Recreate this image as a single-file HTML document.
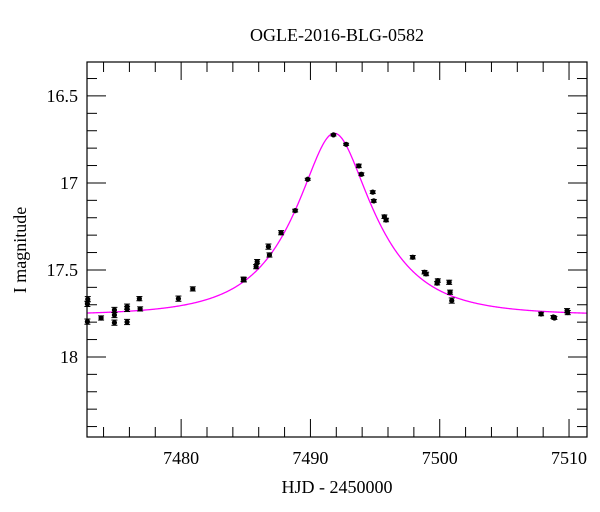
<!DOCTYPE html>
<html><head><meta charset="utf-8">
<style>
html,body{margin:0;padding:0;background:#fff;}
svg{display:block;font-family:"Liberation Serif",serif;}
</style></head>
<body>
<svg id="chart" width="600" height="512" viewBox="0 0 600 512" xmlns="http://www.w3.org/2000/svg">
<text x="337" y="41" font-size="18" text-anchor="middle">OGLE-2016-BLG-0582</text>
<text x="337" y="493" font-size="18" text-anchor="middle">HJD - 2450000</text>
<text x="26" y="250" font-size="18" text-anchor="middle" transform="rotate(-90 26 250)">I magnitude</text>
<g id="ticks"></g>
<g id="curve"></g>
<g id="points"></g>
<rect x="87" y="62" width="500" height="375" fill="none" stroke="#000" stroke-width="1.2"/>
</svg>
<script>
const hjd = [7472.78,7472.75,7472.75,7473.81,7474.84,7474.84,7474.84,7475.82,7475.82,7475.82,7476.77,7476.83,7479.79,7480.90,7484.82,7484.85,7485.80,7485.88,7486.75,7486.83,7487.73,7488.82,7489.79,7491.78,7492.76,7493.74,7493.94,7494.82,7494.90,7495.72,7495.85,7497.91,7498.82,7498.95,7499.85,7499.80,7500.73,7500.80,7500.93,7507.84,7508.79,7508.87,7509.85,7509.90];
const mags = [17.668,17.695,17.797,17.776,17.730,17.759,17.803,17.724,17.711,17.799,17.665,17.724,17.665,17.609,17.553,17.557,17.481,17.452,17.366,17.414,17.286,17.159,16.979,16.724,16.778,16.902,16.950,17.053,17.103,17.194,17.213,17.427,17.513,17.523,17.561,17.576,17.571,17.628,17.676,17.753,17.770,17.776,17.734,17.745];
const errs = [0.015,0.015,0.015,0.012,0.015,0.015,0.015,0.015,0.015,0.015,0.012,0.012,0.015,0.012,0.012,0.012,0.012,0.012,0.015,0.012,0.012,0.008,0.006,0.006,0.006,0.01,0.008,0.008,0.008,0.01,0.01,0.01,0.01,0.01,0.01,0.01,0.012,0.012,0.015,0.01,0.008,0.008,0.012,0.012];
const xTickLabels = [7480,7490,7500,7510];
const yTickLabels = [16.5,17,17.5,18];
const modelT0 = 7491.85, modelU0 = 0.405, modelTE = 5.74, modelBase = 17.76;

const X0=87,X1=587,Y0=62,Y1=437;
const xMin=7472.72,xMax=7511.39,yMin=16.305,yMax=18.46;
const xs=t=>X0+(t-xMin)/(xMax-xMin)*(X1-X0);
const ys=m=>Y0+(m-yMin)/(yMax-yMin)*(Y1-Y0);
const NS="http://www.w3.org/2000/svg";
function mk(tag,attrs,parent){const e=document.createElementNS(NS,tag);for(const k in attrs)e.setAttribute(k,attrs[k]);parent.appendChild(e);return e;}

const tg=document.getElementById('ticks');
for(let t=7474;t<=xMax;t+=2){
  const major=(t%10===0);const L=major?18:10;const x=xs(t);
  let l=mk('line',{x1:x,y1:Y1,x2:x,y2:Y1-L,stroke:'#000','stroke-width':1},tg);
  
  
  l=mk('line',{x1:x,y1:Y0,x2:x,y2:Y0+L,stroke:'#000','stroke-width':1},tg);
  
  
}
xTickLabels.forEach(v=>{
  const t=mk('text',{x:xs(v),y:Y1+27,'font-size':18,'text-anchor':'middle'},tg);t.textContent=v;
  
  
});
for(let i=4;i<=24;i++){
  const m=i/10;const major=(i%5===0);const L=major?19:10;const y=ys(m);
  let l=mk('line',{x1:X0,y1:y,x2:X0+L,y2:y,stroke:'#000','stroke-width':1},tg);
  
  
  l=mk('line',{x1:X1,y1:y,x2:X1-L,y2:y,stroke:'#000','stroke-width':1},tg);
  
  
  if(i<3||i>24) {}
}
// minor ticks 16.4..18.4 handled via 16+i/10
tg.innerHTML='';
for(let t=7474;t<=xMax;t+=2){
  const major=(t%10===0);const L=major?18:10;const x=xs(t);
  let l=mk('line',{x1:x,y1:Y1,x2:x,y2:Y1-L,stroke:'#000','stroke-width':1},tg);
  
  
  l=mk('line',{x1:x,y1:Y0,x2:x,y2:Y0+L,stroke:'#000','stroke-width':1},tg);
  
  
}
xTickLabels.forEach(v=>{
  const t=mk('text',{x:xs(v),y:Y1+27,'font-size':18,'text-anchor':'middle'},tg);t.textContent=v;
  
  
});
for(let i=164;i<=184;i++){
  const m=i/10;const major=(i%5===0);const L=major?19:10;const y=ys(m);
  let l=mk('line',{x1:X0,y1:y,x2:X0+L,y2:y,stroke:'#000','stroke-width':1},tg);
  
  
  l=mk('line',{x1:X1,y1:y,x2:X1-L,y2:y,stroke:'#000','stroke-width':1},tg);
  
  
}
yTickLabels.forEach(v=>{
  const t=mk('text',{x:X0-9,y:ys(v)+6,'font-size':18,'text-anchor':'end'},tg);t.textContent=v;
  
  
});

// model curve (PSPL)
function magAt(t){const tau=(t-modelT0)/modelTE;const u=Math.sqrt(modelU0*modelU0+tau*tau);const A=(u*u+2)/(u*Math.sqrt(u*u+4));return modelBase-2.5*Math.log10(A);}
let d='';
for(let t=xMin;t<=xMax;t+=0.05){d+=(d?'L':'M')+xs(t).toFixed(2)+','+ys(magAt(t)).toFixed(2);}
const cp=mk('path',{d:d,fill:'none',stroke:'#ff00ff','stroke-width':1.3},document.getElementById('curve'));



const pg=document.getElementById('points');
hjd.forEach((t,i)=>{
  const x=xs(t),y=ys(mags[i]),ya=ys(mags[i]-errs[i]),yb=ys(mags[i]+errs[i]);
  const g=mk('g',{},pg);
  
  
  mk('line',{x1:x,y1:ya,x2:x,y2:yb,stroke:'#000','stroke-width':1},g);
  mk('line',{x1:x-3,y1:ya,x2:x+3,y2:ya,stroke:'#000','stroke-width':1},g);
  mk('line',{x1:x-3,y1:yb,x2:x+3,y2:yb,stroke:'#000','stroke-width':1},g);
  mk('circle',{cx:x,cy:y,r:2.6,fill:'#000'},g);
});
</script>
</body></html>
